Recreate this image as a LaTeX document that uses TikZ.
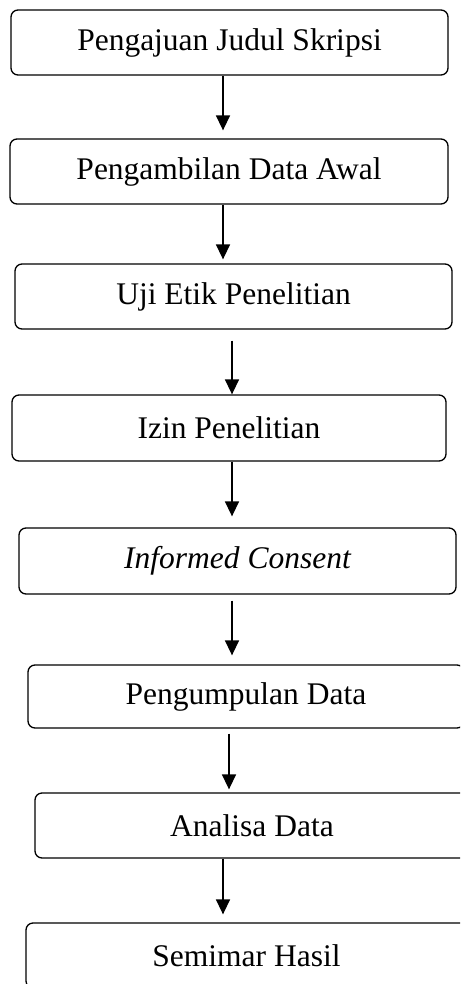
\documentclass[tikz,border=0pt]{standalone}
\usepackage{fontspec}
\setmainfont{Liberation Serif}
\usetikzlibrary{arrows.meta}
\tikzset{
    stepbox/.style={draw, line width=1.3pt, rounded corners=7pt, inner sep=0pt, font=\fontsize{31.5}{34}\selectfont},
    flowarrow/.style={line width=1.5pt, -{Triangle[width=14pt,length=15pt]}}
}

\begin{document}
\begin{tikzpicture}[x=1pt,y=-1pt]
        \clip (0,0) rectangle (460,984);
        \node [stepbox, minimum width=437pt, minimum height=65pt] (judul) at (229.5,42.5) {Pengajuan Judul Skripsi};
        \node [stepbox, minimum width=438pt, minimum height=65pt] (awal) at (229,171.5) {Pengambilan Data Awal};
        \node [stepbox, minimum width=437pt, minimum height=65pt] (etik) at (233.5,296.5) {Uji Etik Penelitian};
        \node [stepbox, minimum width=434pt, minimum height=66pt] (izin) at (229,428) {Izin Penelitian};
        \node [stepbox, minimum width=437pt, minimum height=66pt] (consent) at (237.5,561) {\itshape Informed Consent};
        \node [stepbox, minimum width=436pt, minimum height=63pt] (kumpul) at (246,696.5) {Pengumpulan Data};
        \node [stepbox, minimum width=434pt, minimum height=65pt] (analisa) at (252,825.5) {Analisa Data};
        \node [stepbox, minimum width=441pt, minimum height=65pt] (hasil) at (246.5,955.5) {Semimar Hasil};
        \draw [flowarrow, shorten >=8pt] ([xshift=-6.5pt]judul.south) -- ([xshift=-6pt]awal.north);
        \draw [flowarrow, shorten >=4pt] ([xshift=-6pt]awal.south) -- ([xshift=-10.5pt]etik.north);
        \draw [flowarrow, shorten <=11pt] ([xshift=-1.5pt]etik.south) -- ([xshift=3pt]izin.north);
        \draw [flowarrow, shorten >=11pt] ([xshift=3pt]izin.south) -- ([xshift=-5.5pt]consent.north);
        \draw [flowarrow, shorten <=6pt, shorten >=9pt] ([xshift=-5.5pt]consent.south) -- ([xshift=-14pt]kumpul.north);
        \draw [flowarrow, shorten <=5pt, shorten >=3pt] ([xshift=-17pt]kumpul.south) -- ([xshift=-23pt]analisa.north);
        \draw [flowarrow, shorten >=8pt] ([xshift=-29pt]analisa.south) -- ([xshift=-23.5pt]hasil.north);
    \end{tikzpicture}
\end{document}
